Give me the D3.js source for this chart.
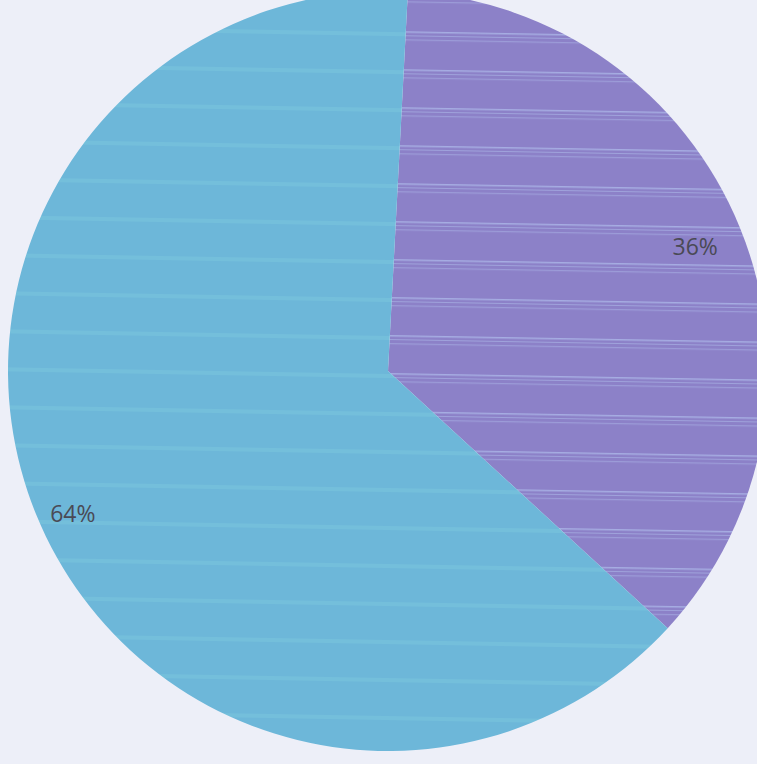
<!DOCTYPE html>
<html>
<head>
<meta charset="utf-8">
<script src="https://cdn.jsdelivr.net/npm/d3@7"></script>
<style>
html,body{margin:0;padding:0;background:#eceef7;}
svg{display:block;}
</style>
</head>
<body>
<svg id="chart" width="757" height="764"></svg>
<script>
const categories = ["A", "B"];
const values = [36, 64];
const labels = ["36%", "64%"];
const colors = ["#8c81c8", "#6db7d9"];
const stripeColors = ["#acb8e8", "#80cde0"];

const W = 757, H = 764;
const cx = 388, cy = 371, R = 380;
const rot = 3 * Math.PI / 180;

const svg = d3.select("#chart");
svg.append("rect").attr("width", W).attr("height", H).attr("fill", "#edeff8");

const defs = svg.append("defs");
categories.forEach((c, i) => {
  const p = defs.append("pattern")
    .attr("id", "pat" + i)
    .attr("patternUnits", "userSpaceOnUse")
    .attr("width", W).attr("height", 38)
    .attr("patternTransform", "rotate(1)");
  p.append("rect").attr("width", W).attr("height", 38).attr("fill", colors[i]);
  if (i === 0) {
    p.append("rect").attr("y", 2).attr("width", W).attr("height", 1.5).attr("fill", stripeColors[i]).attr("opacity", 0.8);
    p.append("rect").attr("y", 6).attr("width", W).attr("height", 1).attr("fill", stripeColors[i]).attr("opacity", 0.6);
    p.append("rect").attr("y", 10).attr("width", W).attr("height", 1.2).attr("fill", stripeColors[i]).attr("opacity", 0.5);
  } else {
    p.append("rect").attr("y", 3).attr("width", W).attr("height", 4).attr("fill", stripeColors[i]).attr("opacity", 0.35);
  }
});

const pie = d3.pie().sort(null).value(d => d)
  .startAngle(rot).endAngle(rot + 2 * Math.PI);
const arcs = pie(values);
const arc = d3.arc().innerRadius(0).outerRadius(R);
const labelArc = d3.arc().innerRadius(335).outerRadius(335);

const g = svg.append("g").attr("transform", `translate(${cx},${cy})`);
g.selectAll("path.slice").data(arcs).enter().append("path")
  .attr("class", "slice")
  .attr("d", arc)
  .attr("fill", (d, i) => `url(#pat${i})`);

g.selectAll("text.lbl").data(arcs).enter().append("text")
  .attr("class", "lbl")
  .attr("transform", (d, i) => {
    const c = labelArc.centroid(d);
    return `translate(${c[0] + (i === 1 ? -5 : -3)},${c[1] + (i === 1 ? 15 : 2)})`;
  })
  .attr("text-anchor", "middle")
  .attr("dominant-baseline", "central")
  .attr("font-family", "Open Sans, Noto Sans, sans-serif")
  .attr("font-size", 23)
  .attr("fill", "#4a4a55")
  .text((d, i) => labels[i]);
</script>
</body>
</html>
